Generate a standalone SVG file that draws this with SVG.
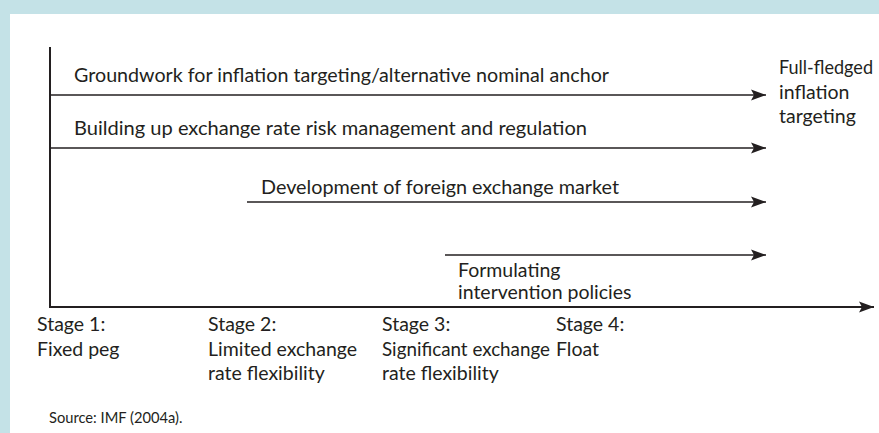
<svg xmlns="http://www.w3.org/2000/svg" width="879" height="433" viewBox="0 0 879 433">
  <style>
    .t { font-family: Lato, "Liberation Sans", sans-serif; font-size: 19.5px; fill: #231f20; }
    .src { font-family: Lato, "Liberation Sans", sans-serif; font-size: 14.7px; fill: #231f20; }
    .ax { stroke: #231f20; stroke-width: 2; fill: none; }
    .ar { stroke: #231f20; stroke-width: 1.6; fill: none; marker-end: url(#head); }
  </style>
  <defs>
    <marker id="head" markerUnits="userSpaceOnUse" markerWidth="16" markerHeight="12" refX="15" refY="6" orient="auto">
      <path d="M0,0.5 L15,6 L0,11.5 L3,6 Z" fill="#231f20"/>
    </marker>
  </defs>

  <!-- frame -->
  <rect x="0" y="0" width="879" height="433" fill="#c4e2e7"/>
  <rect x="10" y="14" width="869" height="419" fill="#ffffff"/>

  <!-- connectors: axes and timeline arrows -->
  <g id="connectors">
    <line class="ax" x1="50" y1="47" x2="50" y2="307"/>
    <line class="ax" x1="49" y1="307" x2="874" y2="307" marker-end="url(#head)"/>
    <line class="ar" x1="50" y1="95" x2="766" y2="95"/>
    <line class="ar" x1="50" y1="148" x2="766" y2="148"/>
    <line class="ar" x1="247" y1="202" x2="766" y2="202"/>
    <line class="ar" x1="445" y1="255" x2="766" y2="255"/>
  </g>

  <g id="groundwork">
    <text class="t" x="74" y="82" textLength="535" lengthAdjust="spacingAndGlyphs">Groundwork for inflation targeting/alternative nominal anchor</text>
  </g>
  <g id="exchange-risk">
    <text class="t" x="74" y="135" textLength="513" lengthAdjust="spacingAndGlyphs">Building up exchange rate risk management and regulation</text>
  </g>
  <g id="fx-market">
    <text class="t" x="261" y="194" textLength="358" lengthAdjust="spacingAndGlyphs">Development of foreign exchange market</text>
  </g>
  <g id="intervention">
    <text class="t" x="458" y="277">Formulating</text>
    <text class="t" x="458" y="299">intervention policies</text>
  </g>
  <g id="full-fledged">
    <text class="t" x="779" y="74" textLength="94" lengthAdjust="spacingAndGlyphs">Full-fledged</text>
    <text class="t" x="779" y="99">inflation</text>
    <text class="t" x="779" y="123">targeting</text>
  </g>

  <g id="stage1">
    <text class="t" x="37" y="331">Stage 1:</text>
    <text class="t" x="37" y="356">Fixed peg</text>
  </g>
  <g id="stage2">
    <text class="t" x="208" y="331">Stage 2:</text>
    <text class="t" x="208" y="356">Limited exchange</text>
    <text class="t" x="208" y="380">rate flexibility</text>
  </g>
  <g id="stage3">
    <text class="t" x="382" y="331">Stage 3:</text>
    <text class="t" x="382" y="356" textLength="168" lengthAdjust="spacingAndGlyphs">Significant exchange</text>
    <text class="t" x="382" y="380">rate flexibility</text>
  </g>
  <g id="stage4">
    <text class="t" x="556" y="331">Stage 4:</text>
    <text class="t" x="556" y="356">Float</text>
  </g>

  <text class="src" x="49" y="423">Source: IMF (2004a).</text>
</svg>
